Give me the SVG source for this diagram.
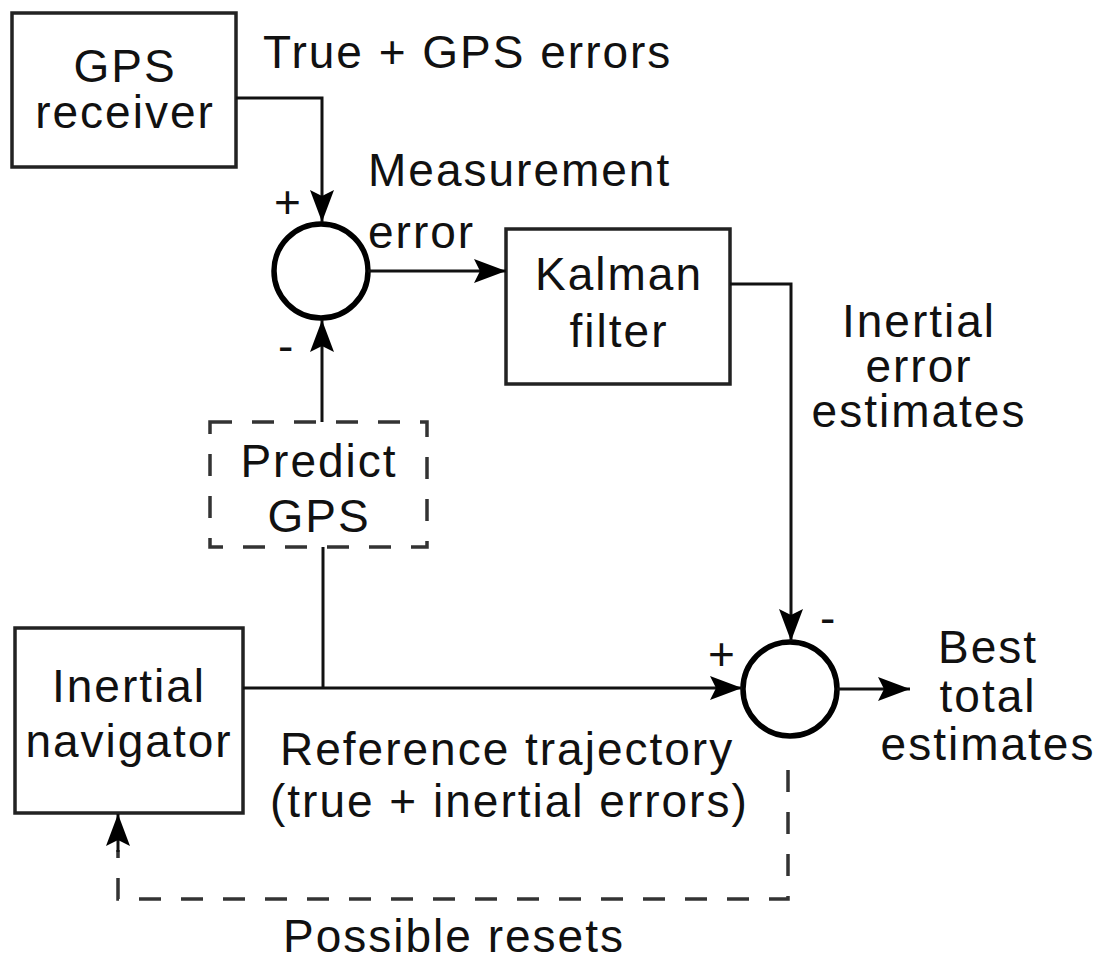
<svg xmlns="http://www.w3.org/2000/svg" width="1099" height="962" viewBox="0 0 1099 962">
<style>
text{font-family:"Liberation Sans",Arial,sans-serif;font-size:46px;fill:#111;letter-spacing:2px}
.c{text-anchor:middle}
.box{fill:none;stroke:#222;stroke-width:3.5}
.dash{fill:none;stroke:#333;stroke-width:3.5;stroke-dasharray:22 20}
.sum{fill:none;stroke:#000;stroke-width:5.5}
.ln{fill:none;stroke:#111;stroke-width:3}
</style>
<defs>
<marker id="ah" markerUnits="userSpaceOnUse" markerWidth="34" markerHeight="24" refX="32" refY="12" orient="auto">
<path d="M0,0 L32,12 L0,24 L6,12 Z" fill="#000"/>
</marker>
</defs>
<g id="gps">
<rect class="box" x="12" y="13" width="224" height="154"/>
<text class="c" x="125" y="82">GPS</text>
<text class="c" x="125" y="128">receiver</text>
</g>
<g id="sum1">
<circle class="sum" cx="321" cy="271" r="47"/>
<text x="274" y="218">+</text>
<text x="278" y="362">-</text>
</g>
<g id="kalman">
<rect class="box" x="506" y="229" width="224" height="155"/>
<text class="c" x="619" y="290">Kalman</text>
<text class="c" x="619" y="347">filter</text>
</g>
<g id="predict">
<rect class="dash" x="210" y="422" width="217" height="125"/>
<text class="c" x="319" y="477">Predict</text>
<text class="c" x="319" y="532">GPS</text>
</g>
<g id="inertial">
<rect class="box" x="15" y="628" width="228" height="185"/>
<text class="c" x="129" y="702">Inertial</text>
<text class="c" x="129" y="757">navigator</text>
</g>
<g id="sum2">
<circle class="sum" cx="790" cy="689" r="47"/>
<text x="708" y="670">+</text>
<text x="820" y="634">-</text>
</g>
<g id="connectors">
<polyline class="ln" points="236,98 322,98 322,222" marker-end="url(#ah)"/>
<line class="ln" x1="368" y1="271" x2="506" y2="271" marker-end="url(#ah)"/>
<line class="ln" x1="322" y1="422" x2="322" y2="320" marker-end="url(#ah)"/>
<line class="ln" x1="323" y1="547" x2="323" y2="688"/>
<line class="ln" x1="243" y1="688" x2="742" y2="688" marker-end="url(#ah)"/>
<polyline class="ln" points="730,284 791,284 791,641" marker-end="url(#ah)"/>
<line class="ln" x1="837" y1="689" x2="910" y2="689" marker-end="url(#ah)"/>
<polyline class="dash" points="788,770 788,899 118,899 118,850"/>
<line class="ln" x1="118" y1="852" x2="118" y2="814" marker-end="url(#ah)"/>
</g>
<g id="labels">
<text x="263" y="68">True + GPS errors</text>
<text x="368" y="186">Measurement</text>
<text x="368" y="248">error</text>
<text class="c" x="919" y="337">Inertial</text>
<text class="c" x="919" y="382">error</text>
<text class="c" x="919" y="427">estimates</text>
<text class="c" x="988" y="663">Best</text>
<text class="c" x="988" y="712">total</text>
<text class="c" x="988" y="760">estimates</text>
<text x="280" y="765">Reference trajectory</text>
<text x="270" y="817">(true + inertial errors)</text>
<text x="283" y="952">Possible resets</text>
</g>
</svg>
